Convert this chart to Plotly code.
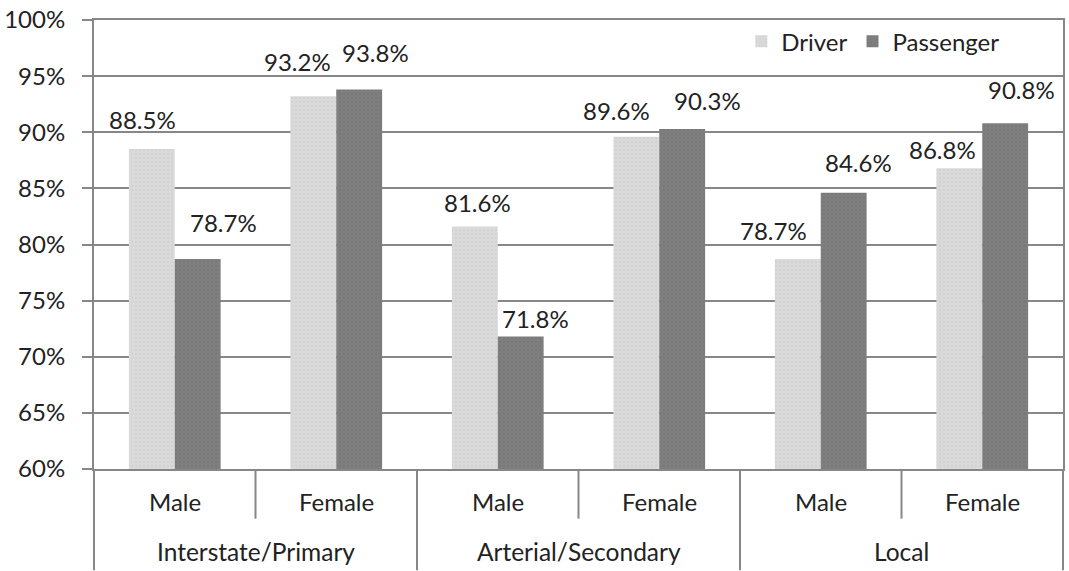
import plotly.graph_objects as go

# Seat-belt use by road type, sex and seating position
road_types = ["Interstate/Primary", "Arterial/Secondary", "Local"]
sexes = ["Male", "Female"]
driver = [88.5, 93.2, 81.6, 89.6, 78.7, 86.8]
passenger = [78.7, 93.8, 71.8, 90.3, 84.6, 90.8]

# label nudges in pixels (dx, dy) relative to the top-centre of each bar
driver_nudge = [(-9, 30), (-16, 35), (3, 24), (-20, 26), (-24, 29), (-17, 19)]
passenger_nudge = [(26, 37), (16, 37), (15, 18), (25, 28), (15, 30), (16, 34)]

FONT = "Lato"
TEXT = "#222222"
LINE = "#878787"
BARGAP = 0.432

n = len(road_types) * len(sexes)
pos = list(range(n))
sub_labels = [s for _ in road_types for s in sexes]

fig = go.Figure()
fig.add_trace(go.Bar(
    x=pos, y=driver, name="Driver",
    marker=dict(color="#dadada", line=dict(width=0),
                pattern=dict(shape=".", size=4, solidity=0.25, fgcolor="#c8c8c8")),
))
fig.add_trace(go.Bar(
    x=pos, y=passenger, name="Passenger",
    marker=dict(color="#7e7e7e", line=dict(width=0),
                pattern=dict(shape=".", size=4, solidity=0.25, fgcolor="#727272")),
))

half = (1 - BARGAP) / 4  # half of a single bar, in category units
annotations = []
for vals, nudges, sign in ((driver, driver_nudge, -1), (passenger, passenger_nudge, 1)):
    for i, (v, (dx, dy)) in enumerate(zip(vals, nudges)):
        annotations.append(dict(
            x=i + sign * half, y=v, xref="x", yref="y",
            text=f"{v:.1f}%", showarrow=False,
            xanchor="center", yanchor="middle",
            xshift=dx, yshift=dy,
            font=dict(family=FONT, size=24, color=TEXT),
        ))

# sub-category and group labels under the axis
plot_h = 452
for i, lab in enumerate(sub_labels):
    annotations.append(dict(
        x=(i + 0.5) / n, y=-33 / plot_h, xref="paper", yref="paper",
        text=lab, showarrow=False, xanchor="center", yanchor="middle",
        font=dict(family=FONT, size=24, color=TEXT),
    ))
for g, lab in enumerate(road_types):
    annotations.append(dict(
        x=(2 * g + 1) / n, y=-83 / plot_h, xref="paper", yref="paper",
        text=lab, showarrow=False, xanchor="center", yanchor="middle",
        font=dict(family=FONT, size=24.5, color=TEXT),
    ))

# dividers between categories (short) and road types (long)
shapes = []
for k in range(n + 1):
    xp = k / n
    y0 = -102 / plot_h if k % 2 == 0 else -50 / plot_h
    shapes.append(dict(type="line", xref="paper", yref="paper",
                       x0=xp, x1=xp, y0=0, y1=y0,
                       line=dict(color=LINE, width=2)))

fig.update_layout(
    width=1069, height=571,
    margin=dict(l=93, r=4, t=17, b=102),
    paper_bgcolor="white", plot_bgcolor="white",
    barmode="group", bargap=BARGAP, bargroupgap=0,
    font=dict(family=FONT, size=24, color=TEXT),
    showlegend=True,
    legend=dict(orientation="h", x=0.668, y=0.952, xanchor="left", yanchor="middle",
                bgcolor="rgba(0,0,0,0)", font=dict(family=FONT, size=24, color=TEXT),
                traceorder="normal"),
    xaxis=dict(range=[-0.5, n - 0.5], showticklabels=False, ticks="",
               showgrid=False, zeroline=False, showline=True, mirror=True,
               linecolor=LINE, linewidth=2, fixedrange=True),
    yaxis=dict(range=[60, 100], dtick=5, ticksuffix="%",
               showgrid=True, gridcolor=LINE, gridwidth=2,
               zeroline=False, showline=True, mirror=True,
               linecolor=LINE, linewidth=2,
               ticks="outside", ticklen=10, tickwidth=2, tickcolor=LINE,
               ticklabelstandoff=12,
               tickfont=dict(family=FONT, size=24, color=TEXT)),
    annotations=annotations,
    shapes=shapes,
)

fig.write_html("out.html")
